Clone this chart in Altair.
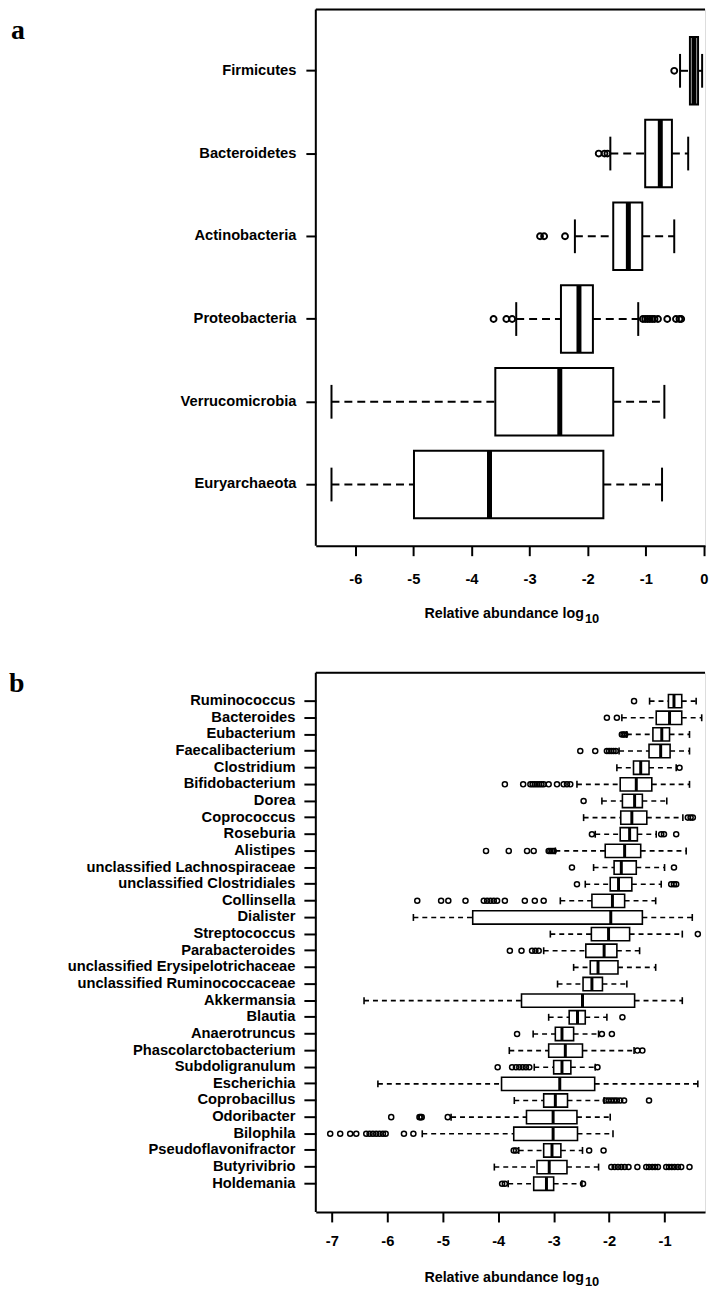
import altair as alt
import pandas as pd

# ---------------- Panel a data (phyla) ----------------
a_cats = ["Firmicutes", "Bacteroidetes", "Actinobacteria", "Proteobacteria",
          "Verrucomicrobia", "Euryarchaeota"]
a_lo  = [-0.41, -1.61, -2.22, -3.23, -6.41, -6.41]
a_q1  = [-0.24, -1.01, -1.56, -2.46, -3.59, -4.99]
a_med = [-0.17, -0.75, -1.30, -2.15, -2.48, -3.69]
a_q3  = [-0.10, -0.55, -1.06, -1.91, -1.56, -1.73]
a_hi  = [-0.03, -0.27, -0.51, -1.13, -0.68, -0.72]
a_out = [
    [-0.51],
    [-1.81, -1.71, -1.66],
    [-2.82, -2.75, -2.39],
    [-3.62, -3.40, -3.30, -1.05, -1.01, -0.97, -0.93, -0.89, -0.85, -0.79,
     -0.63, -0.48, -0.42, -0.39],
    [],
    [],
]

# ---------------- Panel b data (genera) ----------------
b_cats = ["Ruminococcus", "Bacteroides", "Eubacterium", "Faecalibacterium",
          "Clostridium", "Bifidobacterium", "Dorea", "Coprococcus", "Roseburia",
          "Alistipes", "unclassified Lachnospiraceae", "unclassified Clostridiales",
          "Collinsella", "Dialister", "Streptococcus", "Parabacteroides",
          "unclassified Erysipelotrichaceae", "unclassified Ruminococcaceae",
          "Akkermansia", "Blautia", "Anaerotruncus", "Phascolarctobacterium",
          "Subdoligranulum", "Escherichia", "Coprobacillus", "Odoribacter",
          "Bilophila", "Pseudoflavonifractor", "Butyrivibrio", "Holdemania"]
b_lo  = [-1.27, -1.77, -1.68, -1.82, -1.86, -2.58, -2.13, -2.46, -2.25, -2.97,
         -2.28, -2.43, -2.88, -5.53, -3.06, -3.18, -2.64, -2.93, -6.42, -3.09,
         -3.37, -3.80, -3.35, -6.17, -3.71, -4.85, -5.37, -3.63, -4.07, -3.82]
b_q1  = [-0.93, -1.15, -1.21, -1.28, -1.56, -1.80, -1.76, -1.79, -1.80, -2.07,
         -1.91, -1.98, -2.31, -4.46, -2.32, -2.42, -2.34, -2.47, -3.58, -2.72,
         -2.97, -3.09, -3.00, -3.94, -3.18, -3.49, -3.72, -3.18, -3.30, -3.36]
b_med = [-0.83, -0.91, -1.05, -1.07, -1.43, -1.51, -1.54, -1.59, -1.63, -1.72,
         -1.78, -1.83, -1.94, -1.97, -2.01, -2.09, -2.20, -2.31, -2.48, -2.57,
         -2.85, -2.79, -2.85, -2.89, -2.97, -3.01, -3.01, -3.03, -3.08, -3.13]
b_q3  = [-0.69, -0.69, -0.91, -0.90, -1.28, -1.23, -1.40, -1.32, -1.49, -1.43,
         -1.51, -1.59, -1.72, -1.40, -1.63, -1.86, -1.84, -2.12, -1.54, -2.43,
         -2.64, -2.48, -2.69, -2.26, -2.75, -2.58, -2.57, -2.87, -2.76, -3.00]
b_hi  = [-0.43, -0.33, -0.55, -0.55, -0.79, -0.55, -0.96, -0.67, -1.15, -0.61,
         -1.00, -1.06, -1.16, -0.50, -0.68, -1.45, -1.16, -1.68, -0.68, -2.04,
         -2.19, -1.55, -2.25, -0.40, -2.09, -1.98, -1.93, -2.48, -2.19, -2.49]
b_out = [
    [-1.55],
    [-2.04, -1.86],
    [-1.77, -1.74, -1.71],
    [-2.52, -2.25, -2.04, -2.00, -1.96, -1.92, -1.88],
    [-0.73],
    [-3.88, -3.55, -3.42, -3.38, -3.34, -3.30, -3.26, -3.22, -3.18, -3.09,
     -2.94, -2.82, -2.76, -2.70],
    [-2.46],
    [-0.58, -0.53, -0.49],
    [-2.31, -1.06, -1.01, -0.79],
    [-4.22, -3.81, -3.48, -3.36, -3.09, -3.06, -3.03, -3.00],
    [-2.67, -0.83],
    [-2.58, -0.88, -0.83, -0.79],
    [-5.46, -5.03, -4.90, -4.59, -4.26, -4.20, -4.14, -4.08, -4.02, -3.88,
     -3.52, -3.34, -3.18],
    [],
    [-0.40],
    [-3.79, -3.58, -3.39, -3.33, -3.27],
    [],
    [],
    [],
    [-1.76],
    [-3.66, -2.13, -1.95],
    [-1.49, -1.40],
    [-4.01, -3.75, -3.68, -3.62, -3.56, -3.50, -3.44, -2.21],
    [],
    [-2.06, -2.01, -1.96, -1.91, -1.86, -1.80, -1.73, -1.28],
    [-5.93, -5.42, -5.40, -5.38, -4.91],
    [-7.03, -6.85, -6.67, -6.56, -6.38, -6.32, -6.26, -6.20, -6.14, -6.08,
     -6.03, -5.70, -5.53],
    [-3.72, -3.68, -2.36, -2.10],
    [-1.96, -1.90, -1.84, -1.78, -1.72, -1.65, -1.49, -1.33, -1.28, -1.22,
     -1.17, -1.12, -0.97, -0.92, -0.87, -0.82, -0.76, -0.70, -0.55],
    [-3.93, -3.88, -2.47],
]

a_ticks = [-6, -5, -4, -3, -2, -1, 0]
b_ticks = [-7, -6, -5, -4, -3, -2, -1]
title_main = "Relative abundance log"
title_sub = "10"

FONT = "Liberation Sans"
FS = 14.8


def panel(cats, lo, q1, med, q3, hi, outs, *, width, height, domain, ticks,
          yrange, box_h, cap_h, box_sw, med_sw, dash, pt_size, pt_sw,
          ytick, ylabpad, xlabpad, t_y, s_y, letter, lx, ly):
    df = pd.DataFrame({"cat": cats, "lo": lo, "q1": q1, "med": med,
                       "q3": q3, "hi": hi})
    odf = pd.DataFrame([(c, v) for c, vs in zip(cats, outs) for v in vs],
                       columns=["cat", "v"])
    ldf = pd.DataFrame({"t": [letter], "m": [title_main], "s": [title_sub]})

    xscale = alt.Scale(domain=domain, nice=False, zero=False)
    xaxis = alt.Axis(title=None, values=ticks, grid=False,
                     labelExpr="'' + datum.value",
                     domain=True, domainColor="black", domainWidth=2,
                     tickColor="black", tickWidth=2, tickSize=10,
                     labelFont=FONT, labelFontSize=FS, labelFontWeight="bold",
                     labelColor="black", labelPadding=xlabpad)
    yaxis = alt.Axis(title=None, grid=False, domain=False,
                     tickColor="black", tickWidth=2,
                     tickSize=ytick, labelFont=FONT, labelFontSize=FS,
                     labelFontWeight="bold", labelColor="black",
                     labelPadding=ylabpad, labelLimit=0)
    yscale = alt.Scale(paddingInner=0, paddingOuter=0, range=yrange)

    def X(f):
        return alt.X(f"{f}:Q", scale=xscale, axis=xaxis)

    Y = alt.Y("cat:N", sort=cats, scale=yscale, axis=yaxis)

    base = alt.Chart(df)
    w_lo = base.mark_rule(color="black", strokeWidth=box_sw, strokeDash=dash).encode(
        x=X("lo"), x2=alt.X2("q1:Q"), y=Y)
    w_hi = base.mark_rule(color="black", strokeWidth=box_sw, strokeDash=dash).encode(
        x=X("q3"), x2=alt.X2("hi:Q"), y=Y)
    c_lo = base.mark_tick(color="black", opacity=1, size=cap_h,
                          thickness=box_sw).encode(x=X("lo"), y=Y)
    c_hi = base.mark_tick(color="black", opacity=1, size=cap_h,
                          thickness=box_sw).encode(x=X("hi"), y=Y)
    box = base.mark_bar(size=box_h, fill="white", stroke="black", opacity=1,
                        strokeWidth=box_sw).encode(x=X("q1"), x2=alt.X2("q3:Q"), y=Y)
    medl = base.mark_tick(color="black", opacity=1, size=box_h,
                          thickness=med_sw).encode(x=X("med"), y=Y)
    pts = alt.Chart(odf).mark_point(shape="circle", filled=False, color="black",
                                    size=pt_size, strokeWidth=pt_sw, opacity=1).encode(
        x=X("v"), y=Y)
    top = alt.Chart(ldf).mark_rule(color="black", strokeWidth=2).encode(
        x=alt.value(0), x2=alt.value(width), y=alt.value(0))
    left = alt.Chart(ldf).mark_rule(color="black", strokeWidth=2).encode(
        x=alt.value(0), y=alt.value(0), y2=alt.value(height))
    let = alt.Chart(ldf).mark_text(font="Liberation Serif", fontSize=28,
                                   fontWeight="bold", align="left",
                                   baseline="top", color="black").encode(
        text="t:N", x=alt.value(lx), y=alt.value(ly))
    tmain = alt.Chart(ldf).mark_text(font=FONT, fontSize=14.4, fontWeight="bold",
                                     align="right", baseline="alphabetic",
                                     color="black").encode(
        text="m:N", x=alt.value(270), y=alt.value(height + t_y))
    tsub = alt.Chart(ldf).mark_text(font=FONT, fontSize=13, fontWeight="bold",
                                    align="left", baseline="alphabetic",
                                    color="black").encode(
        text="s:N", x=alt.value(271), y=alt.value(height + s_y))
    return alt.layer(w_lo, w_hi, c_lo, c_hi, box, medl, pts, top, left,
                     let, tmain, tsub).properties(width=width, height=height)


a_h = 540
a_step = a_h / 6.48
b_h = 543
b_step = b_h / 32.4

pa = panel(a_cats, a_lo, a_q1, a_med, a_q3, a_hi, a_out,
           width=392, height=a_h, domain=[-6.68, 0.02], ticks=a_ticks,
           yrange=[0.24 * a_step, a_h - 0.24 * a_step],
           box_h=68, cap_h=34, box_sw=2, med_sw=5,
           dash=[8, 5], pt_size=36, pt_sw=1.9, ytick=10, ylabpad=10,
           xlabpad=16, t_y=73, s_y=78, letter="a", lx=-307, ly=8)

pb = panel(b_cats, b_lo, b_q1, b_med, b_q3, b_hi, b_out,
           width=392, height=b_h, domain=[-7.29, -0.27], ticks=b_ticks,
           yrange=[1.2 * b_step, b_h - 1.2 * b_step],
           box_h=13.4, cap_h=7, box_sw=1.6, med_sw=3,
           dash=[5, 4], pt_size=26, pt_sw=1.5, ytick=12, ylabpad=9,
           xlabpad=12, t_y=71, s_y=75, letter="b", lx=-309, ly=-3)

chart = alt.vconcat(pa, pb, spacing=42).properties(
    padding={"left": 0, "top": -5, "right": 0, "bottom": 0}
).configure_view(stroke=None).configure(background="white")

chart.save("out.html", embed_options={"renderer": "svg", "actions": False})
